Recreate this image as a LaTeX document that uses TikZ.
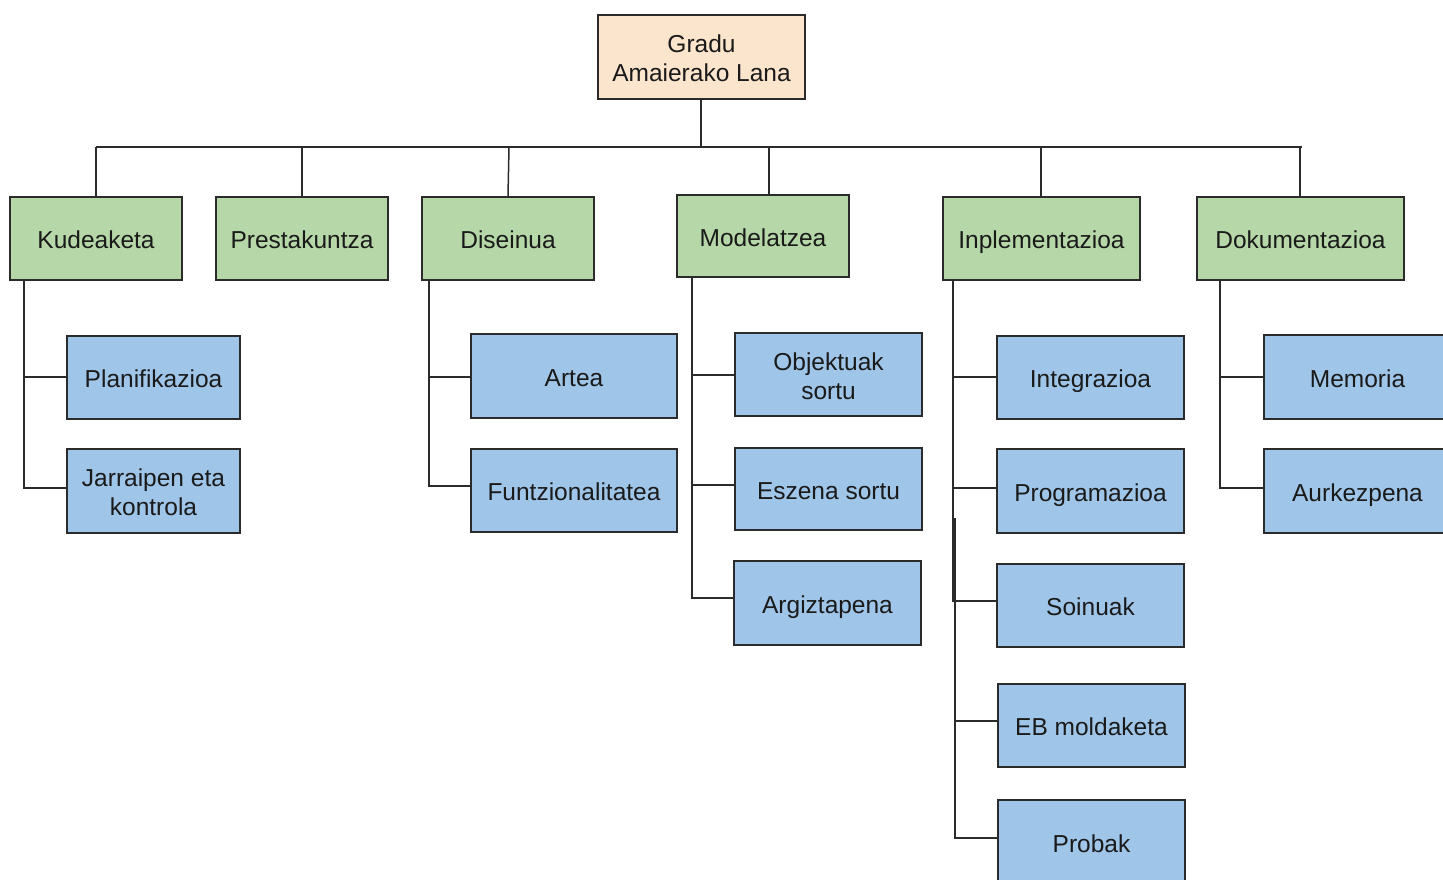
\documentclass[tikz,border=0pt]{standalone}
\usepackage{fontspec}
\setmainfont{Liberation Sans}
\definecolor{peach}{HTML}{FCE5CD}
\definecolor{lgreen}{HTML}{B6D7A8}
\definecolor{lblue}{HTML}{9FC5E8}
\definecolor{edge}{HTML}{2B2B2B}
\definecolor{txt}{HTML}{1A1A1A}
\newcommand{\twolines}[2]{\begin{tabular}[b]{@{}c@{}}#1\\#2\end{tabular}}
\tikzset{
  box/.style={draw=edge, line width=1.5pt, inner sep=0pt, align=center, text=txt,
    font=\fontsize{24.5}{29}\selectfont},
  oneline/.style={text height=20.6pt, text depth=0pt},
  twoline/.style={text height=49.5pt, text depth=0pt},
  rootbox/.style={box, twoline, fill=peach, minimum width=207, minimum height=84},
  topbox/.style={box, oneline, fill=lgreen, minimum height=83},
  subboxm/.style={box, twoline, fill=lblue, minimum width=187, minimum height=83},
  subbox/.style={box, oneline, fill=lblue, minimum width=187, minimum height=83},
  conn/.style={draw=edge, line width=1.5pt},
}
\begin{document}
\begin{tikzpicture}[x=1pt,y=-1pt]
\useasboundingbox (0,0) rectangle (1443,880);
\clip (0,0) rectangle (1443,880);
\fill[white] (0,0) rectangle (1443,880);

% root
\node[rootbox] (root) at (701.5,57) {\twolines{Gradu}{Amaierako Lana}};

% level 1
\node[topbox, minimum width=172] (kud) at (96,238.5) {Kudeaketa};
\node[topbox, minimum width=172] (prest) at (302,238.5) {Prestakuntza};
\node[topbox, minimum width=172] (dis) at (508,238.5) {Diseinua};
\node[topbox, minimum width=172, minimum height=82] (mod) at (763,236) {Modelatzea};
\node[topbox, minimum width=197] (inpl) at (1041.5,238.5) {Inplementazioa};
\node[topbox, minimum width=207] (dok) at (1300.5,238.5) {Dokumentazioa};

% level 2
\node[subbox, minimum width=173] (plan) at (153.5,377.5) {Planifikazioa};
\node[subboxm, minimum width=173, minimum height=84] (jarr) at (153.5,491) {\twolines{Jarraipen eta}{kontrola}};
\node[subbox, minimum width=206, minimum height=84] (artea) at (574,376) {Artea};
\node[subbox, minimum width=206] (funtz) at (574,490.5) {Funtzionalitatea};
\node[subboxm] (objekt) at (828.5,374.5) {\twolines{Objektuak}{sortu}};
\node[subbox, minimum height=82] (eszena) at (828.5,489) {Eszena sortu};
\node[subbox, minimum height=84] (argiz) at (827.5,603) {Argiztapena};
\node[subbox] (integ) at (1090.5,377.5) {Integrazioa};
\node[subbox, minimum height=84] (progr) at (1090.5,491) {Programazioa};
\node[subbox] (soin) at (1090.5,605.5) {Soinuak};
\node[subbox] (ebm) at (1091.5,725.5) {EB moldaketa};
\node[subbox, minimum height=84] (probak) at (1091.5,842) {Probak};
\node[subbox, minimum height=84] (memoria) at (1357.5,377) {Memoria};
\node[subbox, minimum height=84] (aurk) at (1357.5,491) {Aurkezpena};

% bus
\coordinate (busL) at (96,147);
\coordinate (busR) at (1302,147);
\draw[conn] ([xshift=-0.5pt]root.south) -- ([xshift=-0.5pt]root.south |- busL);
\draw[conn] (busL) -- (busR);
\draw[conn] (kud.north) -- (kud.north |- busL);
\draw[conn] (prest.north) -- (prest.north |- busL);
\draw[conn] (dis.north) -- ([xshift=1pt]dis.north |- busL);
\draw[conn] ([xshift=6pt]mod.north) -- ([xshift=6pt]mod.north |- busL);
\draw[conn] ([xshift=-0.5pt]inpl.north) -- ([xshift=-0.5pt]inpl.north |- busL);
\draw[conn] ([xshift=-0.5pt]dok.north) -- ([xshift=-0.5pt]dok.north |- busL);

% trunks
\coordinate (kudT) at (24,280);
\draw[conn] (kudT) |- ([yshift=0.5pt]plan.west);
\draw[conn] (kudT) |- ([yshift=3pt]jarr.west);

\coordinate (disT) at (429,280);
\draw[conn] (disT) |- ([yshift=-1pt]artea.west);
\draw[conn] (disT) |- ([yshift=4.5pt]funtz.west);

\coordinate (modT) at (692,277);
\draw[conn] (modT) |- ([yshift=-0.5pt]objekt.west);
\draw[conn] (modT) |- ([yshift=4pt]eszena.west);
\draw[conn] (modT) |- ([yshift=5pt]argiz.west);

\coordinate (inplT) at (953,280);
\coordinate (inplT2) at (955,518);
\draw[conn] (inplT) |- ([yshift=0.5pt]integ.west);
\draw[conn] (inplT) |- ([yshift=3pt]progr.west);
\draw[conn] (inplT) |- ([yshift=4.5pt]soin.west);
\draw[conn] (inplT2) |- ([yshift=4.5pt]ebm.west);
\draw[conn] (inplT2) |- ([yshift=4pt]probak.west);

\coordinate (dokT) at (1220,280);
\draw[conn] (dokT) |- (memoria.west);
\draw[conn] (dokT) |- ([yshift=3pt]aurk.west);
\end{tikzpicture}
\end{document}
